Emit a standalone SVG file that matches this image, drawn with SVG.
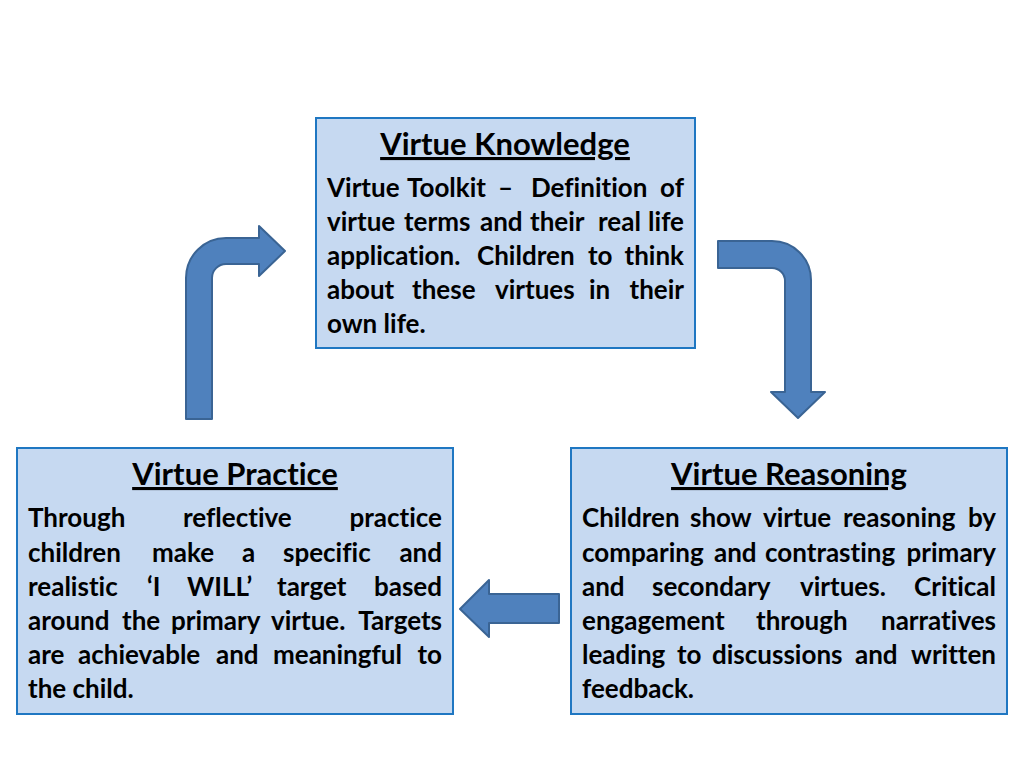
<svg xmlns="http://www.w3.org/2000/svg" width="1024" height="768" viewBox="0 0 1024 768">
<style>
.box{fill:#c6d9f1;stroke:#1f77c2;stroke-width:2}
.arrow{fill:#4f81bd;stroke:#3a6494;stroke-width:2;stroke-linejoin:round}
.title{font-family:Lato,"Liberation Sans",sans-serif;font-weight:bold;font-size:31px;fill:#000;text-anchor:middle;text-decoration:underline;font-variant-ligatures:none}
.body{font-family:Lato,"Liberation Sans",sans-serif;font-weight:bold;font-size:26px;fill:#000;font-variant-ligatures:none}
.end{text-anchor:end}
</style>
<rect width="1024" height="768" fill="#fff"/>
<g id="connectors">
<path class="arrow" d="M186,419 V278 A40,40 0 0 1 226,238 H259 V226 L285,251 L259,276 V264 H226 A14,14 0 0 0 212,278 V419 Z"/>
<path class="arrow" d="M718,241 H772 A39,39 0 0 1 811,280 V392 H825 L798,418 L771,392 H785 V281 A13,13 0 0 0 772,268 H718 Z"/>
<path class="arrow" d="M559,594 H489 V580 L460,609 L489,637 V623 H559 Z"/>
</g>
<g id="knowledge">
<rect class="box" x="316" y="118" width="379" height="230"/>
<text class="title" x="505" y="155">Virtue Knowledge</text>
<text class="body" y="197"><tspan x="327">Virtue</tspan><tspan x="407">Toolkit</tspan><tspan x="498">–</tspan><tspan x="531">Definition</tspan></text>
<text class="body end" x="684" y="197">of</text>
<text class="body" y="231"><tspan x="327">virtue</tspan><tspan x="404">terms</tspan><tspan x="480">and</tspan><tspan x="530">their</tspan><tspan x="598">real</tspan></text>
<text class="body end" x="684" y="231">life</text>
<text class="body" y="265"><tspan x="327">application.</tspan><tspan x="477">Children</tspan><tspan x="588">to</tspan></text>
<text class="body end" x="684" y="265">think</text>
<text class="body" y="299"><tspan x="327">about</tspan><tspan x="412">these</tspan><tspan x="495">virtues</tspan><tspan x="589">in</tspan></text>
<text class="body end" x="684" y="299">their</text>
<text class="body" x="327" y="333">own life.</text>
</g>
<g id="practice">
<rect class="box" x="17" y="448" width="436" height="266"/>
<text class="title" x="235" y="485">Virtue Practice</text>
<text class="body" y="527"><tspan x="28">Through</tspan><tspan x="183">reflective</tspan></text>
<text class="body end" x="442" y="527">practice</text>
<text class="body" y="562"><tspan x="28">children</tspan><tspan x="152">make</tspan><tspan x="242">a</tspan><tspan x="283">specific</tspan></text>
<text class="body end" x="442" y="562">and</text>
<text class="body" y="596"><tspan x="28">realistic</tspan><tspan x="147">‘I</tspan><tspan x="187">WILL’</tspan><tspan x="277">target</tspan></text>
<text class="body end" x="442" y="596">based</text>
<text class="body" y="630"><tspan x="28">around</tspan><tspan x="122">the</tspan><tspan x="171">primary</tspan><tspan x="271">virtue.</tspan></text>
<text class="body end" x="442" y="630">Targets</text>
<text class="body" y="664"><tspan x="28">are</tspan><tspan x="78">achievable</tspan><tspan x="216">and</tspan><tspan x="273">meaningful</tspan></text>
<text class="body end" x="442" y="664">to</text>
<text class="body" x="28" y="698">the child.</text>
</g>
<g id="reasoning">
<rect class="box" x="571" y="448" width="436" height="266"/>
<text class="title" x="789" y="485">Virtue Reasoning</text>
<text class="body" y="527"><tspan x="582">Children</tspan><tspan x="690">show</tspan><tspan x="763">virtue</tspan><tspan x="843">reasoning</tspan></text>
<text class="body end" x="996" y="527">by</text>
<text class="body" y="562"><tspan x="582">comparing</tspan><tspan x="714">and</tspan><tspan x="765">contrasting</tspan></text>
<text class="body end" x="996" y="562">primary</text>
<text class="body" y="596"><tspan x="582">and</tspan><tspan x="652">secondary</tspan><tspan x="800">virtues.</tspan></text>
<text class="body end" x="996" y="596">Critical</text>
<text class="body" y="630"><tspan x="582">engagement</tspan><tspan x="756">through</tspan></text>
<text class="body end" x="996" y="630">narratives</text>
<text class="body" y="664"><tspan x="582">leading</tspan><tspan x="677">to</tspan><tspan x="712">discussions</tspan><tspan x="855">and</tspan></text>
<text class="body end" x="996" y="664">written</text>
<text class="body" x="582" y="698">feedback.</text>
</g>
</svg>
